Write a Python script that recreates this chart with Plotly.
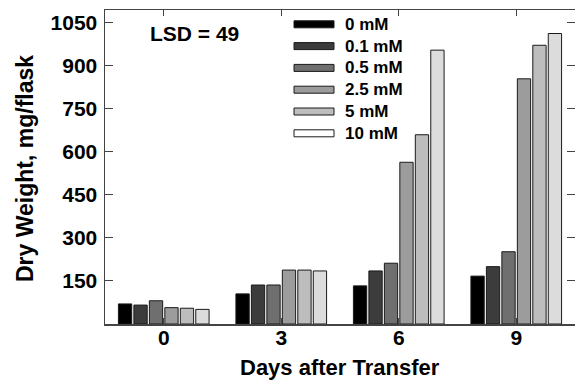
import plotly.graph_objects as go

days = ["0", "3", "6", "9"]
series_names = ["0 mM", "0.1 mM", "0.5 mM", "2.5 mM", "5 mM", "10 mM"]
v_0mM = [70, 105, 133, 167]
v_01mM = [66, 136, 185, 200]
v_05mM = [81, 136, 212, 252]
v_25mM = [57, 188, 564, 855]
v_5mM = [55, 188, 660, 972]
v_10mM = [51, 185, 955, 1013]
values = [v_0mM, v_01mM, v_05mM, v_25mM, v_5mM, v_10mM]
colors = ["#000000", "#3c3c3c", "#6f6f6f", "#9c9c9c", "#bdbdbd", "#dcdcdc"]
legend_colors = ["#000000", "#3c3c3c", "#6f6f6f", "#9c9c9c", "#bdbdbd", "#ffffff"]
y_ticks = [150, 300, 450, 600, 750, 900, 1050]

FONT = "Liberation Sans, Arial, Helvetica, sans-serif"
W, H = 575, 380
L, R, T, B = 105, 0, 10, 56
pw, ph = W - L - R, H - T - B

fig = go.Figure()
for name, vals, c in zip(series_names, values, colors):
    fig.add_trace(go.Bar(x=days, y=vals, name=name, marker=dict(color=c, line=dict(color="#1a1a1a", width=1)),
                         showlegend=False, hoverinfo="skip"))

# custom legend
shapes = []
annots = []
for i, (name, c) in enumerate(zip(series_names, legend_colors)):
    cy = 24.3 + i * 21.8
    shapes.append(dict(type="rect", xref="paper", yref="paper",
                       x0=(294 - L) / pw, x1=(334 - L) / pw,
                       y0=(H - B - (cy + 3.5)) / ph, y1=(H - B - (cy - 3.5)) / ph,
                       fillcolor=c, line=dict(color="#1a1a1a", width=1)))
    annots.append(dict(xref="paper", yref="paper", x=(343 - L) / pw, y=(H - B - cy) / ph,
                       xanchor="left", yanchor="middle", text=name, showarrow=False,
                       font=dict(family=FONT, size=17, color="black", weight="bold")))
annots.append(dict(xref="paper", yref="paper", x=(194 - L) / pw, y=(H - B - 33.5) / ph,
                   xanchor="center", yanchor="middle", text="LSD = 49", showarrow=False,
                   font=dict(family=FONT, size=21, color="black", weight="bold")))
# axis titles
annots.append(dict(xref="paper", yref="paper", x=(340 - L) / pw, y=(H - B - 367.5) / ph,
                   xanchor="center", yanchor="middle", text="Days after Transfer", showarrow=False,
                   font=dict(family=FONT, size=22, color="black", weight="bold")))
annots.append(dict(xref="paper", yref="paper", x=(25 - L) / pw, y=(H - B - 169) / ph,
                   xanchor="center", yanchor="middle", text="Dry Weight, mg/flask", showarrow=False,
                   textangle=-90,
                   font=dict(family=FONT, size=23, color="black", weight="bold")))

fig.update_layout(
    template="none",
    width=W, height=H,
    margin=dict(l=L, r=R, t=T, b=B, autoexpand=False),
    paper_bgcolor="white", plot_bgcolor="white",
    barmode="group", bargap=0.21, bargroupgap=0.14,
    shapes=shapes, annotations=annots,
    font=dict(family=FONT, color="black"),
    showlegend=False,
)
fig.update_xaxes(
    automargin=False,
    showline=True, linecolor="#444444", linewidth=1.5, mirror="ticks",
    ticks="inside", ticklen=6, tickcolor="#444444",
    tickfont=dict(family=FONT, size=21, color="black", weight="bold"),
    ticklabelstandoff=-6,
    showgrid=False,
)
fig.update_yaxes(
    automargin=False,
    range=[0, 1095], tickvals=y_ticks, ticktext=[str(t) for t in y_ticks],
    showline=True, linecolor="#444444", linewidth=1.5, mirror="allticks",
    ticks="inside", ticklen=8, tickcolor="#444444",
    tickfont=dict(family=FONT, size=21, color="black", weight="bold"),
    ticklabelstandoff=2,
    showgrid=False, zeroline=False,
)
fig.write_html("out.html", config={"displayModeBar": False, "staticPlot": True},
               post_script="document.body.style.margin='0';document.body.style.overflow='hidden';")
